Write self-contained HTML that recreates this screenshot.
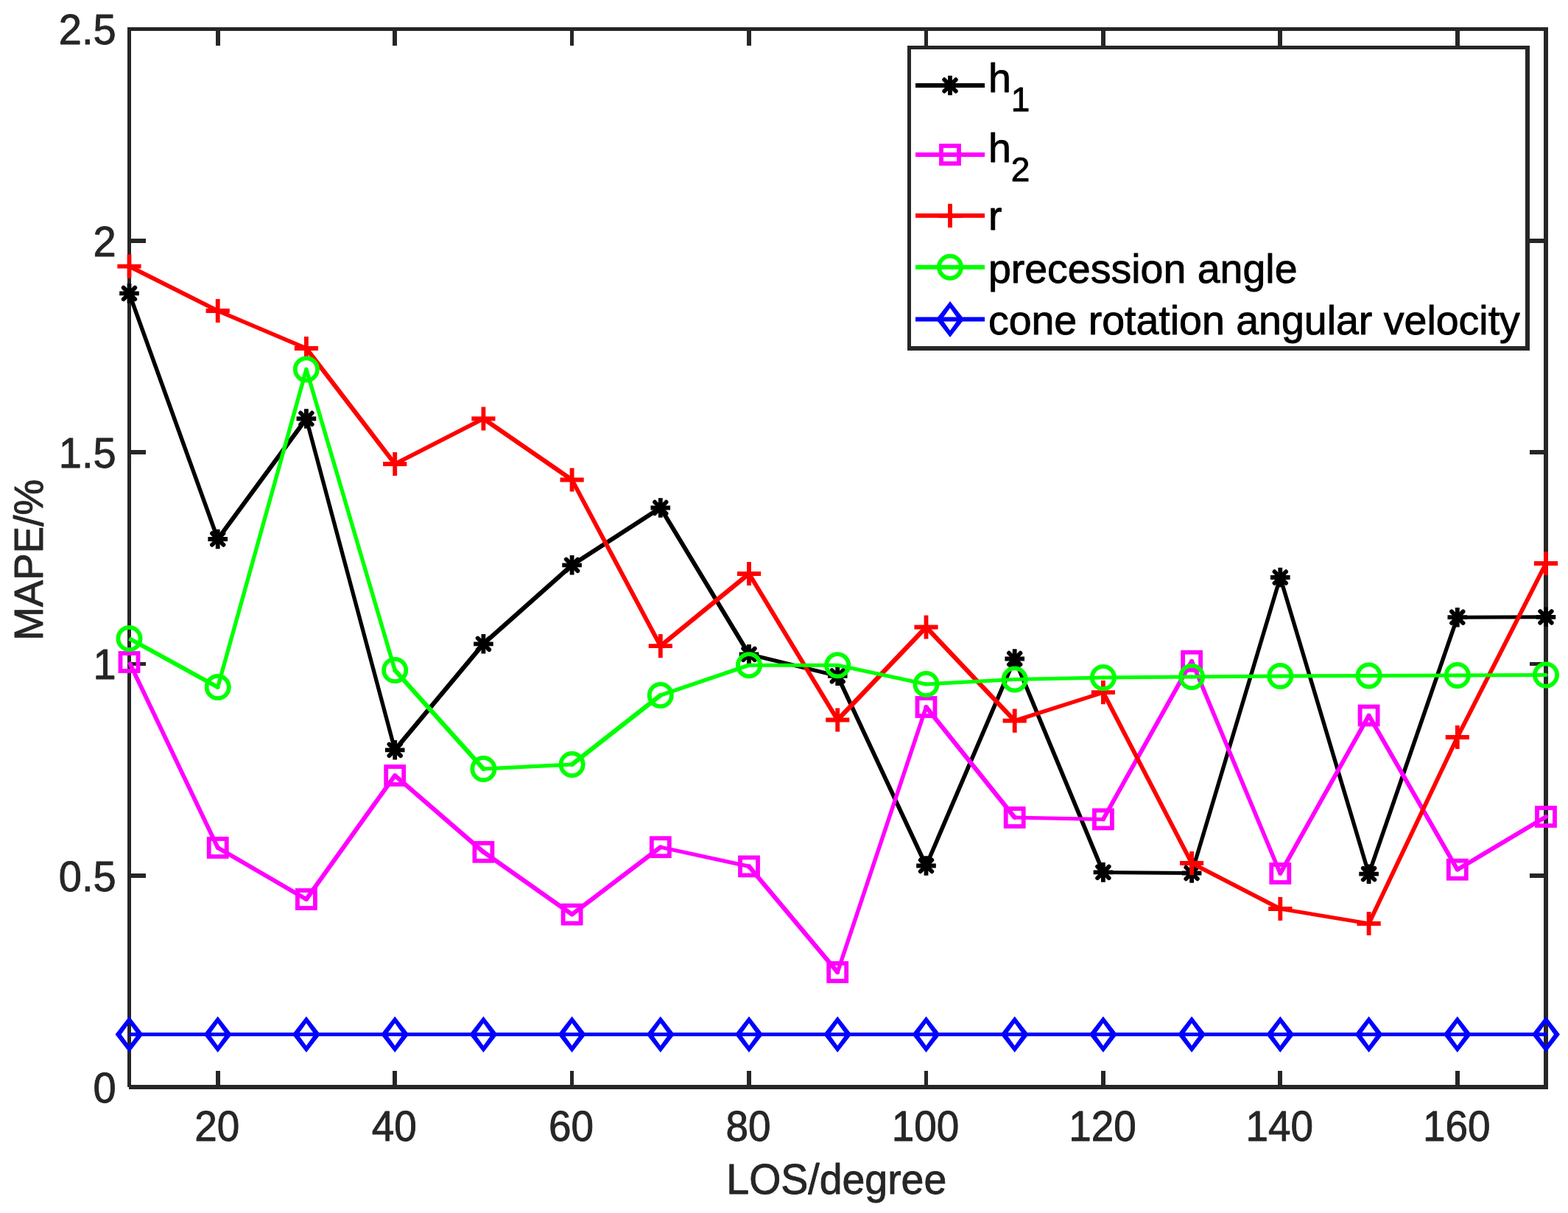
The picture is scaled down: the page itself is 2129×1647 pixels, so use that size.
<!DOCTYPE html><html><head><meta charset="utf-8"><title>MAPE vs LOS</title><style>html,body{margin:0;padding:0;background:#fff;overflow:hidden}svg{display:block}</style></head><body>
<svg width="2129" height="1647" viewBox="0 0 2129 1647">
<rect width="2129" height="1647" fill="#fff"/>
<g fill="#262626" shape-rendering="crispEdges"><rect x="173" y="37" width="1929" height="5"/><rect x="173" y="37" width="5" height="1439"/><rect x="175" y="1473" width="1927" height="6"/><rect x="2096" y="37" width="6" height="1442"/><rect x="293" y="1454" width="6" height="19"/><rect x="293" y="42" width="6" height="20"/><rect x="533" y="1454" width="6" height="19"/><rect x="533" y="42" width="6" height="20"/><rect x="774" y="1454" width="5" height="19"/><rect x="774" y="42" width="5" height="20"/><rect x="1014" y="1454" width="6" height="19"/><rect x="1014" y="42" width="6" height="20"/><rect x="1255" y="1454" width="5" height="19"/><rect x="1255" y="42" width="5" height="20"/><rect x="1495" y="1454" width="6" height="19"/><rect x="1495" y="42" width="6" height="20"/><rect x="1735" y="1454" width="6" height="19"/><rect x="1735" y="42" width="6" height="20"/><rect x="1976" y="1454" width="6" height="19"/><rect x="1976" y="42" width="6" height="20"/><rect x="178" y="1186" width="20" height="6"/><rect x="2077" y="1186" width="19" height="6"/><rect x="178" y="899" width="20" height="5"/><rect x="2077" y="899" width="19" height="5"/><rect x="178" y="611" width="20" height="6"/><rect x="2077" y="611" width="19" height="6"/><rect x="178" y="324" width="20" height="6"/><rect x="2077" y="324" width="19" height="6"/></g>
<g font-family="'Liberation Sans', Arial, Helvetica, sans-serif" font-size="56" fill="#262626" stroke="#262626" stroke-width="0.9" stroke-linejoin="round">
<text transform="translate(294.7 1549.3) scale(0.98 1.025)" text-anchor="middle">20</text>
<text transform="translate(535.2 1549.3) scale(0.98 1.025)" text-anchor="middle">40</text>
<text transform="translate(775.6 1549.3) scale(0.98 1.025)" text-anchor="middle">60</text>
<text transform="translate(1016.0 1549.3) scale(0.98 1.025)" text-anchor="middle">80</text>
<text transform="translate(1256.5 1549.3) scale(0.98 1.025)" text-anchor="middle">100</text>
<text transform="translate(1496.9 1549.3) scale(0.98 1.025)" text-anchor="middle">120</text>
<text transform="translate(1737.3 1549.3) scale(0.98 1.025)" text-anchor="middle">140</text>
<text transform="translate(1977.8 1549.3) scale(0.98 1.025)" text-anchor="middle">160</text>
<text transform="translate(157.6 1496.8) scale(1 1.02)" text-anchor="end">0</text>
<text transform="translate(157.6 1209.5) scale(1 1.02)" text-anchor="end">0.5</text>
<text transform="translate(157.6 922.2) scale(1 1.02)" text-anchor="end">1</text>
<text transform="translate(157.6 634.9) scale(1 1.02)" text-anchor="end">1.5</text>
<text transform="translate(157.6 347.6) scale(1 1.02)" text-anchor="end">2</text>
<text transform="translate(157.6 60.3) scale(1 1.02)" text-anchor="end">2.5</text>
<text transform="translate(1135.8 1621) scale(0.99 1.01)" text-anchor="middle">LOS/degree</text>
<text transform="translate(57.8 760.3) rotate(-90)" text-anchor="middle" textLength="219" lengthAdjust="spacingAndGlyphs">MAPE/%</text>
</g>
<g>
<g stroke="#000"><line x1="175.5" y1="398.4" x2="295.7" y2="732.0" stroke-width="5.49"/><line x1="295.7" y1="732.0" x2="415.9" y2="568.5" stroke-width="6.09"/><line x1="415.9" y1="568.5" x2="536.2" y2="1018.3" stroke-width="5.30"/><line x1="536.2" y1="1018.3" x2="656.4" y2="874.3" stroke-width="6.16"/><line x1="656.4" y1="874.3" x2="776.6" y2="767.3" stroke-width="6.18"/><line x1="776.6" y1="767.3" x2="896.8" y2="689.5" stroke-width="6.00"/><line x1="896.8" y1="689.5" x2="1017.0" y2="888.4" stroke-width="5.94"/><line x1="1017.0" y1="888.4" x2="1137.2" y2="917.8" stroke-width="5.26"/><line x1="1137.2" y1="917.8" x2="1257.5" y2="1175.5" stroke-width="5.70"/><line x1="1257.5" y1="1175.5" x2="1377.7" y2="894.5" stroke-width="5.63"/><line x1="1377.7" y1="894.5" x2="1497.9" y2="1184.4" stroke-width="5.60"/><line x1="1497.9" y1="1184.4" x2="1618.1" y2="1185.5" stroke-width="5.00"/><line x1="1618.1" y1="1185.5" x2="1738.3" y2="784.0" stroke-width="5.36"/><line x1="1738.3" y1="784.0" x2="1858.6" y2="1186.7" stroke-width="5.36"/><line x1="1858.6" y1="1186.7" x2="1978.8" y2="838.2" stroke-width="5.46"/><line x1="1978.8" y1="838.2" x2="2099.0" y2="837.8" stroke-width="5.00"/></g><g fill="#000"><circle cx="295.7" cy="732.0" r="3.05"/><circle cx="415.9" cy="568.5" r="3.05"/><circle cx="536.2" cy="1018.3" r="3.08"/><circle cx="656.4" cy="874.3" r="3.09"/><circle cx="776.6" cy="767.3" r="3.09"/><circle cx="896.8" cy="689.5" r="3.00"/><circle cx="1017.0" cy="888.4" r="2.97"/><circle cx="1137.2" cy="917.8" r="2.85"/><circle cx="1257.5" cy="1175.5" r="2.85"/><circle cx="1377.7" cy="894.5" r="2.81"/><circle cx="1497.9" cy="1184.4" r="2.80"/><circle cx="1618.1" cy="1185.5" r="2.68"/><circle cx="1738.3" cy="784.0" r="2.68"/><circle cx="1858.6" cy="1186.7" r="2.73"/><circle cx="1978.8" cy="838.2" r="2.73"/><circle cx="2099.0" cy="837.8" r="2.50"/></g>
<path d="M162.2 398.4H188.8M175.5 385.1V411.7" stroke="#000" stroke-width="5.8" fill="none"/><path d="M167.7 390.6L183.3 406.2M167.7 406.2L183.3 390.6" stroke="#000" stroke-width="5.8" stroke-linecap="round" fill="none"/>
<path d="M282.4 732.0H309.0M295.7 718.7V745.3" stroke="#000" stroke-width="5.8" fill="none"/><path d="M287.9 724.2L303.5 739.8M287.9 739.8L303.5 724.2" stroke="#000" stroke-width="5.8" stroke-linecap="round" fill="none"/>
<path d="M402.6 568.5H429.2M415.9 555.2V581.8" stroke="#000" stroke-width="5.8" fill="none"/><path d="M408.1 560.7L423.7 576.3M408.1 576.3L423.7 560.7" stroke="#000" stroke-width="5.8" stroke-linecap="round" fill="none"/>
<path d="M522.9 1018.3H549.5M536.2 1005.0V1031.6" stroke="#000" stroke-width="5.8" fill="none"/><path d="M528.4 1010.5L544.0 1026.1M528.4 1026.1L544.0 1010.5" stroke="#000" stroke-width="5.8" stroke-linecap="round" fill="none"/>
<path d="M643.1 874.3H669.7M656.4 861.0V887.6" stroke="#000" stroke-width="5.8" fill="none"/><path d="M648.6 866.5L664.2 882.1M648.6 882.1L664.2 866.5" stroke="#000" stroke-width="5.8" stroke-linecap="round" fill="none"/>
<path d="M763.3 767.3H789.9M776.6 754.0V780.6" stroke="#000" stroke-width="5.8" fill="none"/><path d="M768.8 759.5L784.4 775.1M768.8 775.1L784.4 759.5" stroke="#000" stroke-width="5.8" stroke-linecap="round" fill="none"/>
<path d="M883.5 689.5H910.1M896.8 676.2V702.8" stroke="#000" stroke-width="5.8" fill="none"/><path d="M889.0 681.7L904.6 697.3M889.0 697.3L904.6 681.7" stroke="#000" stroke-width="5.8" stroke-linecap="round" fill="none"/>
<path d="M1003.7 888.4H1030.3M1017.0 875.1V901.7" stroke="#000" stroke-width="5.8" fill="none"/><path d="M1009.2 880.6L1024.8 896.2M1009.2 896.2L1024.8 880.6" stroke="#000" stroke-width="5.8" stroke-linecap="round" fill="none"/>
<path d="M1124.0 917.8H1150.5M1137.2 904.5V931.1" stroke="#000" stroke-width="5.8" fill="none"/><path d="M1129.5 910.0L1145.0 925.6M1129.5 925.6L1145.0 910.0" stroke="#000" stroke-width="5.8" stroke-linecap="round" fill="none"/>
<path d="M1244.2 1175.5H1270.8M1257.5 1162.2V1188.8" stroke="#000" stroke-width="5.8" fill="none"/><path d="M1249.7 1167.7L1265.3 1183.3M1249.7 1183.3L1265.3 1167.7" stroke="#000" stroke-width="5.8" stroke-linecap="round" fill="none"/>
<path d="M1364.4 894.5H1391.0M1377.7 881.2V907.8" stroke="#000" stroke-width="5.8" fill="none"/><path d="M1369.9 886.7L1385.5 902.3M1369.9 902.3L1385.5 886.7" stroke="#000" stroke-width="5.8" stroke-linecap="round" fill="none"/>
<path d="M1484.6 1184.4H1511.2M1497.9 1171.1V1197.7" stroke="#000" stroke-width="5.8" fill="none"/><path d="M1490.1 1176.6L1505.7 1192.2M1490.1 1192.2L1505.7 1176.6" stroke="#000" stroke-width="5.8" stroke-linecap="round" fill="none"/>
<path d="M1604.8 1185.5H1631.4M1618.1 1172.2V1198.8" stroke="#000" stroke-width="5.8" fill="none"/><path d="M1610.3 1177.7L1625.9 1193.3M1610.3 1193.3L1625.9 1177.7" stroke="#000" stroke-width="5.8" stroke-linecap="round" fill="none"/>
<path d="M1725.0 784.0H1751.6M1738.3 770.7V797.3" stroke="#000" stroke-width="5.8" fill="none"/><path d="M1730.5 776.2L1746.1 791.8M1730.5 791.8L1746.1 776.2" stroke="#000" stroke-width="5.8" stroke-linecap="round" fill="none"/>
<path d="M1845.3 1186.7H1871.9M1858.6 1173.4V1200.0" stroke="#000" stroke-width="5.8" fill="none"/><path d="M1850.8 1178.9L1866.4 1194.5M1850.8 1194.5L1866.4 1178.9" stroke="#000" stroke-width="5.8" stroke-linecap="round" fill="none"/>
<path d="M1965.5 838.2H1992.1M1978.8 824.9V851.5" stroke="#000" stroke-width="5.8" fill="none"/><path d="M1971.0 830.4L1986.6 846.0M1971.0 846.0L1986.6 830.4" stroke="#000" stroke-width="5.8" stroke-linecap="round" fill="none"/>
<path d="M2085.7 837.8H2112.3M2099.0 824.5V851.1" stroke="#000" stroke-width="5.8" fill="none"/><path d="M2091.2 830.0L2106.8 845.6M2091.2 845.6L2106.8 830.0" stroke="#000" stroke-width="5.8" stroke-linecap="round" fill="none"/>
</g>
<g>
<g stroke="#f0f"><line x1="175.5" y1="899.0" x2="295.7" y2="1151.0" stroke-width="5.72"/><line x1="295.7" y1="1151.0" x2="415.9" y2="1221.0" stroke-width="5.91"/><line x1="415.9" y1="1221.0" x2="536.2" y2="1053.0" stroke-width="6.08"/><line x1="536.2" y1="1053.0" x2="656.4" y2="1156.8" stroke-width="6.17"/><line x1="656.4" y1="1156.8" x2="776.6" y2="1241.6" stroke-width="6.06"/><line x1="776.6" y1="1241.6" x2="896.8" y2="1150.2" stroke-width="6.11"/><line x1="896.8" y1="1150.2" x2="1017.0" y2="1176.4" stroke-width="5.21"/><line x1="1017.0" y1="1176.4" x2="1137.2" y2="1320.0" stroke-width="6.16"/><line x1="1137.2" y1="1320.0" x2="1257.5" y2="960.0" stroke-width="5.43"/><line x1="1257.5" y1="960.0" x2="1377.7" y2="1110.0" stroke-width="6.14"/><line x1="1377.7" y1="1110.0" x2="1497.9" y2="1112.4" stroke-width="5.00"/><line x1="1497.9" y1="1112.4" x2="1618.1" y2="897.7" stroke-width="5.87"/><line x1="1618.1" y1="897.7" x2="1738.3" y2="1186.0" stroke-width="5.61"/><line x1="1738.3" y1="1186.0" x2="1858.6" y2="971.5" stroke-width="5.87"/><line x1="1858.6" y1="971.5" x2="1978.8" y2="1180.7" stroke-width="5.90"/><line x1="1978.8" y1="1180.7" x2="2099.0" y2="1109.0" stroke-width="5.93"/></g><g fill="#f0f"><circle cx="295.7" cy="1151.0" r="2.95"/><circle cx="415.9" cy="1221.0" r="3.04"/><circle cx="536.2" cy="1053.0" r="3.09"/><circle cx="656.4" cy="1156.8" r="3.09"/><circle cx="776.6" cy="1241.6" r="3.06"/><circle cx="896.8" cy="1150.2" r="3.06"/><circle cx="1017.0" cy="1176.4" r="3.08"/><circle cx="1137.2" cy="1320.0" r="3.08"/><circle cx="1257.5" cy="960.0" r="3.07"/><circle cx="1377.7" cy="1110.0" r="3.07"/><circle cx="1497.9" cy="1112.4" r="2.94"/><circle cx="1618.1" cy="897.7" r="2.94"/><circle cx="1738.3" cy="1186.0" r="2.94"/><circle cx="1858.6" cy="971.5" r="2.95"/><circle cx="1978.8" cy="1180.7" r="2.96"/><circle cx="2099.0" cy="1109.0" r="2.96"/></g>
<rect x="163.5" y="887.0" width="24" height="24" fill="none" stroke="#f0f" stroke-width="5.8"/>
<rect x="283.7" y="1139.0" width="24" height="24" fill="none" stroke="#f0f" stroke-width="5.8"/>
<rect x="403.9" y="1209.0" width="24" height="24" fill="none" stroke="#f0f" stroke-width="5.8"/>
<rect x="524.2" y="1041.0" width="24" height="24" fill="none" stroke="#f0f" stroke-width="5.8"/>
<rect x="644.4" y="1144.8" width="24" height="24" fill="none" stroke="#f0f" stroke-width="5.8"/>
<rect x="764.6" y="1229.6" width="24" height="24" fill="none" stroke="#f0f" stroke-width="5.8"/>
<rect x="884.8" y="1138.2" width="24" height="24" fill="none" stroke="#f0f" stroke-width="5.8"/>
<rect x="1005.0" y="1164.4" width="24" height="24" fill="none" stroke="#f0f" stroke-width="5.8"/>
<rect x="1125.2" y="1308.0" width="24" height="24" fill="none" stroke="#f0f" stroke-width="5.8"/>
<rect x="1245.5" y="948.0" width="24" height="24" fill="none" stroke="#f0f" stroke-width="5.8"/>
<rect x="1365.7" y="1098.0" width="24" height="24" fill="none" stroke="#f0f" stroke-width="5.8"/>
<rect x="1485.9" y="1100.4" width="24" height="24" fill="none" stroke="#f0f" stroke-width="5.8"/>
<rect x="1606.1" y="885.7" width="24" height="24" fill="none" stroke="#f0f" stroke-width="5.8"/>
<rect x="1726.3" y="1174.0" width="24" height="24" fill="none" stroke="#f0f" stroke-width="5.8"/>
<rect x="1846.6" y="959.5" width="24" height="24" fill="none" stroke="#f0f" stroke-width="5.8"/>
<rect x="1966.8" y="1168.7" width="24" height="24" fill="none" stroke="#f0f" stroke-width="5.8"/>
<rect x="2087.0" y="1097.0" width="24" height="24" fill="none" stroke="#f0f" stroke-width="5.8"/>
</g>
<g>
<g stroke="#f00"><line x1="175.5" y1="361.6" x2="295.7" y2="422.0" stroke-width="5.77"/><line x1="295.7" y1="422.0" x2="415.9" y2="473.0" stroke-width="5.62"/><line x1="415.9" y1="473.0" x2="536.2" y2="630.0" stroke-width="6.12"/><line x1="536.2" y1="630.0" x2="656.4" y2="568.5" stroke-width="5.79"/><line x1="656.4" y1="568.5" x2="776.6" y2="651.5" stroke-width="6.05"/><line x1="776.6" y1="651.5" x2="896.8" y2="877.2" stroke-width="5.83"/><line x1="896.8" y1="877.2" x2="1017.0" y2="779.0" stroke-width="6.15"/><line x1="1017.0" y1="779.0" x2="1137.2" y2="977.5" stroke-width="5.94"/><line x1="1137.2" y1="977.5" x2="1257.5" y2="851.5" stroke-width="6.20"/><line x1="1257.5" y1="851.5" x2="1377.7" y2="978.6" stroke-width="6.20"/><line x1="1377.7" y1="978.6" x2="1497.9" y2="940.2" stroke-width="5.40"/><line x1="1497.9" y1="940.2" x2="1618.1" y2="1172.0" stroke-width="5.80"/><line x1="1618.1" y1="1172.0" x2="1738.3" y2="1234.0" stroke-width="5.80"/><line x1="1738.3" y1="1234.0" x2="1858.6" y2="1254.0" stroke-width="5.13"/><line x1="1858.6" y1="1254.0" x2="1978.8" y2="1001.0" stroke-width="5.72"/><line x1="1978.8" y1="1001.0" x2="2099.0" y2="765.0" stroke-width="5.79"/></g><g fill="#f00"><circle cx="295.7" cy="422.0" r="2.89"/><circle cx="415.9" cy="473.0" r="3.06"/><circle cx="536.2" cy="630.0" r="3.06"/><circle cx="656.4" cy="568.5" r="3.02"/><circle cx="776.6" cy="651.5" r="3.02"/><circle cx="896.8" cy="877.2" r="3.08"/><circle cx="1017.0" cy="779.0" r="3.08"/><circle cx="1137.2" cy="977.5" r="3.10"/><circle cx="1257.5" cy="851.5" r="3.10"/><circle cx="1377.7" cy="978.6" r="3.10"/><circle cx="1497.9" cy="940.2" r="2.90"/><circle cx="1618.1" cy="1172.0" r="2.90"/><circle cx="1738.3" cy="1234.0" r="2.90"/><circle cx="1858.6" cy="1254.0" r="2.86"/><circle cx="1978.8" cy="1001.0" r="2.89"/><circle cx="2099.0" cy="765.0" r="2.89"/></g>
<path d="M159.4 361.6H191.6M175.5 345.5V377.7" stroke="#f00" stroke-width="5.8" fill="none"/>
<path d="M279.6 422.0H311.8M295.7 405.9V438.1" stroke="#f00" stroke-width="5.8" fill="none"/>
<path d="M399.8 473.0H432.0M415.9 456.9V489.1" stroke="#f00" stroke-width="5.8" fill="none"/>
<path d="M520.1 630.0H552.3M536.2 613.9V646.1" stroke="#f00" stroke-width="5.8" fill="none"/>
<path d="M640.3 568.5H672.5M656.4 552.4V584.6" stroke="#f00" stroke-width="5.8" fill="none"/>
<path d="M760.5 651.5H792.7M776.6 635.4V667.6" stroke="#f00" stroke-width="5.8" fill="none"/>
<path d="M880.7 877.2H912.9M896.8 861.1V893.3" stroke="#f00" stroke-width="5.8" fill="none"/>
<path d="M1000.9 779.0H1033.1M1017.0 762.9V795.1" stroke="#f00" stroke-width="5.8" fill="none"/>
<path d="M1121.2 977.5H1153.3M1137.2 961.4V993.6" stroke="#f00" stroke-width="5.8" fill="none"/>
<path d="M1241.4 851.5H1273.6M1257.5 835.4V867.6" stroke="#f00" stroke-width="5.8" fill="none"/>
<path d="M1361.6 978.6H1393.8M1377.7 962.5V994.7" stroke="#f00" stroke-width="5.8" fill="none"/>
<path d="M1481.8 940.2H1514.0M1497.9 924.1V956.3" stroke="#f00" stroke-width="5.8" fill="none"/>
<path d="M1602.0 1172.0H1634.2M1618.1 1155.9V1188.1" stroke="#f00" stroke-width="5.8" fill="none"/>
<path d="M1722.2 1234.0H1754.4M1738.3 1217.9V1250.1" stroke="#f00" stroke-width="5.8" fill="none"/>
<path d="M1842.5 1254.0H1874.7M1858.6 1237.9V1270.1" stroke="#f00" stroke-width="5.8" fill="none"/>
<path d="M1962.7 1001.0H1994.9M1978.8 984.9V1017.1" stroke="#f00" stroke-width="5.8" fill="none"/>
<path d="M2082.9 765.0H2115.1M2099.0 748.9V781.1" stroke="#f00" stroke-width="5.8" fill="none"/>
</g>
<g>
<g stroke="#0f0"><line x1="175.5" y1="867.0" x2="295.7" y2="933.0" stroke-width="5.85"/><line x1="295.7" y1="933.0" x2="415.9" y2="501.5" stroke-width="5.32"/><line x1="415.9" y1="501.5" x2="536.2" y2="910.0" stroke-width="5.35"/><line x1="536.2" y1="910.0" x2="656.4" y2="1044.0" stroke-width="6.19"/><line x1="656.4" y1="1044.0" x2="776.6" y2="1038.0" stroke-width="5.01"/><line x1="776.6" y1="1038.0" x2="896.8" y2="944.0" stroke-width="6.13"/><line x1="896.8" y1="944.0" x2="1017.0" y2="903.2" stroke-width="5.44"/><line x1="1017.0" y1="903.2" x2="1137.2" y2="903.3" stroke-width="5.00"/><line x1="1137.2" y1="903.3" x2="1257.5" y2="929.0" stroke-width="5.20"/><line x1="1257.5" y1="929.0" x2="1377.7" y2="922.4" stroke-width="5.01"/><line x1="1377.7" y1="922.4" x2="1497.9" y2="920.0" stroke-width="5.00"/><line x1="1497.9" y1="920.0" x2="1618.1" y2="919.0" stroke-width="5.00"/><line x1="1618.1" y1="919.0" x2="1738.3" y2="918.0" stroke-width="5.00"/><line x1="1738.3" y1="918.0" x2="1858.6" y2="917.4" stroke-width="5.00"/><line x1="1858.6" y1="917.4" x2="1978.8" y2="917.0" stroke-width="5.00"/><line x1="1978.8" y1="917.0" x2="2099.0" y2="916.5" stroke-width="5.00"/></g><g fill="#0f0"><circle cx="295.7" cy="933.0" r="2.93"/><circle cx="415.9" cy="501.5" r="2.68"/><circle cx="536.2" cy="910.0" r="3.09"/><circle cx="656.4" cy="1044.0" r="3.09"/><circle cx="776.6" cy="1038.0" r="3.07"/><circle cx="896.8" cy="944.0" r="3.07"/><circle cx="1017.0" cy="903.2" r="2.72"/><circle cx="1137.2" cy="903.3" r="2.60"/><circle cx="1257.5" cy="929.0" r="2.60"/><circle cx="1377.7" cy="922.4" r="2.51"/><circle cx="1497.9" cy="920.0" r="2.50"/><circle cx="1618.1" cy="919.0" r="2.50"/><circle cx="1738.3" cy="918.0" r="2.50"/><circle cx="1858.6" cy="917.4" r="2.50"/><circle cx="1978.8" cy="917.0" r="2.50"/><circle cx="2099.0" cy="916.5" r="2.50"/></g>
<circle cx="175.5" cy="867.0" r="15.1" fill="none" stroke="#0f0" stroke-width="5.8"/>
<circle cx="295.7" cy="933.0" r="15.1" fill="none" stroke="#0f0" stroke-width="5.8"/>
<circle cx="415.9" cy="501.5" r="15.1" fill="none" stroke="#0f0" stroke-width="5.8"/>
<circle cx="536.2" cy="910.0" r="15.1" fill="none" stroke="#0f0" stroke-width="5.8"/>
<circle cx="656.4" cy="1044.0" r="15.1" fill="none" stroke="#0f0" stroke-width="5.8"/>
<circle cx="776.6" cy="1038.0" r="15.1" fill="none" stroke="#0f0" stroke-width="5.8"/>
<circle cx="896.8" cy="944.0" r="15.1" fill="none" stroke="#0f0" stroke-width="5.8"/>
<circle cx="1017.0" cy="903.2" r="15.1" fill="none" stroke="#0f0" stroke-width="5.8"/>
<circle cx="1137.2" cy="903.3" r="15.1" fill="none" stroke="#0f0" stroke-width="5.8"/>
<circle cx="1257.5" cy="929.0" r="15.1" fill="none" stroke="#0f0" stroke-width="5.8"/>
<circle cx="1377.7" cy="922.4" r="15.1" fill="none" stroke="#0f0" stroke-width="5.8"/>
<circle cx="1497.9" cy="920.0" r="15.1" fill="none" stroke="#0f0" stroke-width="5.8"/>
<circle cx="1618.1" cy="919.0" r="15.1" fill="none" stroke="#0f0" stroke-width="5.8"/>
<circle cx="1738.3" cy="918.0" r="15.1" fill="none" stroke="#0f0" stroke-width="5.8"/>
<circle cx="1858.6" cy="917.4" r="15.1" fill="none" stroke="#0f0" stroke-width="5.8"/>
<circle cx="1978.8" cy="917.0" r="15.1" fill="none" stroke="#0f0" stroke-width="5.8"/>
<circle cx="2099.0" cy="916.5" r="15.1" fill="none" stroke="#0f0" stroke-width="5.8"/>
</g>
<g>
<g stroke="#00f"><line x1="175.5" y1="1404.5" x2="295.7" y2="1404.5" stroke-width="5.00"/><line x1="295.7" y1="1404.5" x2="415.9" y2="1404.5" stroke-width="5.00"/><line x1="415.9" y1="1404.5" x2="536.2" y2="1404.5" stroke-width="5.00"/><line x1="536.2" y1="1404.5" x2="656.4" y2="1404.5" stroke-width="5.00"/><line x1="656.4" y1="1404.5" x2="776.6" y2="1404.5" stroke-width="5.00"/><line x1="776.6" y1="1404.5" x2="896.8" y2="1404.5" stroke-width="5.00"/><line x1="896.8" y1="1404.5" x2="1017.0" y2="1404.5" stroke-width="5.00"/><line x1="1017.0" y1="1404.5" x2="1137.2" y2="1404.5" stroke-width="5.00"/><line x1="1137.2" y1="1404.5" x2="1257.5" y2="1404.5" stroke-width="5.00"/><line x1="1257.5" y1="1404.5" x2="1377.7" y2="1404.5" stroke-width="5.00"/><line x1="1377.7" y1="1404.5" x2="1497.9" y2="1404.5" stroke-width="5.00"/><line x1="1497.9" y1="1404.5" x2="1618.1" y2="1404.5" stroke-width="5.00"/><line x1="1618.1" y1="1404.5" x2="1738.3" y2="1404.5" stroke-width="5.00"/><line x1="1738.3" y1="1404.5" x2="1858.6" y2="1404.5" stroke-width="5.00"/><line x1="1858.6" y1="1404.5" x2="1978.8" y2="1404.5" stroke-width="5.00"/><line x1="1978.8" y1="1404.5" x2="2099.0" y2="1404.5" stroke-width="5.00"/></g><g fill="#00f"><circle cx="295.7" cy="1404.5" r="2.50"/><circle cx="415.9" cy="1404.5" r="2.50"/><circle cx="536.2" cy="1404.5" r="2.50"/><circle cx="656.4" cy="1404.5" r="2.50"/><circle cx="776.6" cy="1404.5" r="2.50"/><circle cx="896.8" cy="1404.5" r="2.50"/><circle cx="1017.0" cy="1404.5" r="2.50"/><circle cx="1137.2" cy="1404.5" r="2.50"/><circle cx="1257.5" cy="1404.5" r="2.50"/><circle cx="1377.7" cy="1404.5" r="2.50"/><circle cx="1497.9" cy="1404.5" r="2.50"/><circle cx="1618.1" cy="1404.5" r="2.50"/><circle cx="1738.3" cy="1404.5" r="2.50"/><circle cx="1858.6" cy="1404.5" r="2.50"/><circle cx="1978.8" cy="1404.5" r="2.50"/><circle cx="2099.0" cy="1404.5" r="2.50"/></g>
<path d="M156.5 1404.5L175.5 1380.0L194.5 1404.5L175.5 1429.0ZM164.6 1404.5L175.5 1389.3L186.4 1404.5L175.5 1419.7Z" fill="#00f" fill-rule="evenodd"/>
<path d="M276.7 1404.5L295.7 1380.0L314.7 1404.5L295.7 1429.0ZM284.8 1404.5L295.7 1389.3L306.6 1404.5L295.7 1419.7Z" fill="#00f" fill-rule="evenodd"/>
<path d="M396.9 1404.5L415.9 1380.0L434.9 1404.5L415.9 1429.0ZM405.0 1404.5L415.9 1389.3L426.8 1404.5L415.9 1419.7Z" fill="#00f" fill-rule="evenodd"/>
<path d="M517.2 1404.5L536.2 1380.0L555.2 1404.5L536.2 1429.0ZM525.3 1404.5L536.2 1389.3L547.1 1404.5L536.2 1419.7Z" fill="#00f" fill-rule="evenodd"/>
<path d="M637.4 1404.5L656.4 1380.0L675.4 1404.5L656.4 1429.0ZM645.5 1404.5L656.4 1389.3L667.3 1404.5L656.4 1419.7Z" fill="#00f" fill-rule="evenodd"/>
<path d="M757.6 1404.5L776.6 1380.0L795.6 1404.5L776.6 1429.0ZM765.7 1404.5L776.6 1389.3L787.5 1404.5L776.6 1419.7Z" fill="#00f" fill-rule="evenodd"/>
<path d="M877.8 1404.5L896.8 1380.0L915.8 1404.5L896.8 1429.0ZM885.9 1404.5L896.8 1389.3L907.7 1404.5L896.8 1419.7Z" fill="#00f" fill-rule="evenodd"/>
<path d="M998.0 1404.5L1017.0 1380.0L1036.0 1404.5L1017.0 1429.0ZM1006.1 1404.5L1017.0 1389.3L1027.9 1404.5L1017.0 1419.7Z" fill="#00f" fill-rule="evenodd"/>
<path d="M1118.2 1404.5L1137.2 1380.0L1156.2 1404.5L1137.2 1429.0ZM1126.3 1404.5L1137.2 1389.3L1148.2 1404.5L1137.2 1419.7Z" fill="#00f" fill-rule="evenodd"/>
<path d="M1238.5 1404.5L1257.5 1380.0L1276.5 1404.5L1257.5 1429.0ZM1246.6 1404.5L1257.5 1389.3L1268.4 1404.5L1257.5 1419.7Z" fill="#00f" fill-rule="evenodd"/>
<path d="M1358.7 1404.5L1377.7 1380.0L1396.7 1404.5L1377.7 1429.0ZM1366.8 1404.5L1377.7 1389.3L1388.6 1404.5L1377.7 1419.7Z" fill="#00f" fill-rule="evenodd"/>
<path d="M1478.9 1404.5L1497.9 1380.0L1516.9 1404.5L1497.9 1429.0ZM1487.0 1404.5L1497.9 1389.3L1508.8 1404.5L1497.9 1419.7Z" fill="#00f" fill-rule="evenodd"/>
<path d="M1599.1 1404.5L1618.1 1380.0L1637.1 1404.5L1618.1 1429.0ZM1607.2 1404.5L1618.1 1389.3L1629.0 1404.5L1618.1 1419.7Z" fill="#00f" fill-rule="evenodd"/>
<path d="M1719.3 1404.5L1738.3 1380.0L1757.3 1404.5L1738.3 1429.0ZM1727.4 1404.5L1738.3 1389.3L1749.2 1404.5L1738.3 1419.7Z" fill="#00f" fill-rule="evenodd"/>
<path d="M1839.6 1404.5L1858.6 1380.0L1877.6 1404.5L1858.6 1429.0ZM1847.7 1404.5L1858.6 1389.3L1869.5 1404.5L1858.6 1419.7Z" fill="#00f" fill-rule="evenodd"/>
<path d="M1959.8 1404.5L1978.8 1380.0L1997.8 1404.5L1978.8 1429.0ZM1967.9 1404.5L1978.8 1389.3L1989.7 1404.5L1978.8 1419.7Z" fill="#00f" fill-rule="evenodd"/>
<path d="M2080.0 1404.5L2099.0 1380.0L2118.0 1404.5L2099.0 1429.0ZM2088.1 1404.5L2099.0 1389.3L2109.9 1404.5L2099.0 1419.7Z" fill="#00f" fill-rule="evenodd"/>
</g>
<rect x="1237" y="67" width="834" height="403" fill="#fff"/>
<g fill="#262626" shape-rendering="crispEdges"><rect x="1232" y="62" width="845" height="5"/><rect x="1232" y="62" width="5" height="414"/><rect x="1232" y="470" width="845" height="6"/><rect x="2071" y="62" width="6" height="414"/></g>
<path d="M1243 116H1337" stroke="#000" stroke-width="6"/>
<path d="M1276.7 116.0H1303.3M1290.0 102.7V129.3" stroke="#000" stroke-width="5.8" fill="none"/><path d="M1282.2 108.2L1297.8 123.8M1282.2 123.8L1297.8 108.2" stroke="#000" stroke-width="5.8" stroke-linecap="round" fill="none"/>
<path d="M1243 210H1337" stroke="#f0f" stroke-width="6"/>
<rect x="1278.0" y="198.0" width="24" height="24" fill="none" stroke="#f0f" stroke-width="5.8"/>
<path d="M1243 292.8H1337" stroke="#f00" stroke-width="6"/>
<path d="M1273.9 292.8H1306.1M1290.0 276.7V308.9" stroke="#f00" stroke-width="5.8" fill="none"/>
<path d="M1243 362.7H1337" stroke="#0f0" stroke-width="6"/>
<circle cx="1290.0" cy="362.7" r="15.1" fill="none" stroke="#0f0" stroke-width="5.8"/>
<path d="M1243 433.5H1337" stroke="#00f" stroke-width="6"/>
<path d="M1271.0 433.5L1290.0 409.0L1309.0 433.5L1290.0 458.0ZM1279.1 433.5L1290.0 418.3L1300.9 433.5L1290.0 448.7Z" fill="#00f" fill-rule="evenodd"/>
<g font-family="'Liberation Sans', Arial, Helvetica, sans-serif" font-size="55.5" fill="#000" stroke="#000" stroke-width="0.9" stroke-linejoin="round">
<text x="1341.9" y="124.7">h<tspan font-size="46" dy="26.7">1</tspan></text>
<text x="1341.9" y="219.5">h<tspan font-size="46" dy="26.9">2</tspan></text>
<text x="1341.9" y="312.4">r</text>
<text x="1341.9" y="383.8">precession angle</text>
<text x="1341.9" y="453.9">cone rotation angular velocity</text>
</g>
</svg></body></html>
